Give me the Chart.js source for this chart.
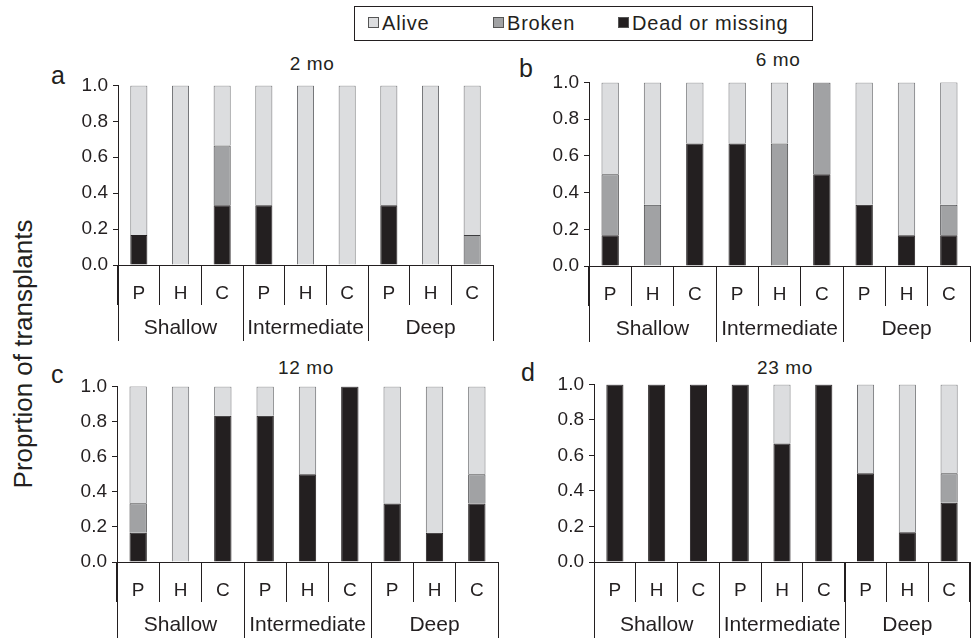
<!DOCTYPE html>
<html lang="en">
<head>
<meta charset="utf-8">
<title>Transplant fate</title>
<script src="https://cdn.jsdelivr.net/npm/chart.js"></script>
<style>
  html, body { margin: 0; padding: 0; background: #fff; }
  body { width: 971px; height: 642px; position: relative; overflow: hidden;
         font-family: "Liberation Sans", Arial, sans-serif; color: #231f20; }
  .abs { position: absolute; }
  .legend { left: 354px; top: 6px; width: 457px; height: 33px; border: 1px solid #231f20; font-size: 20px; letter-spacing: 0.8px; }
  .legend span.item { position: absolute; top: 5px; }
  .legend i { display: inline-block; width: 9px; height: 9px; border: 1px solid #555; margin-right: 3px; vertical-align: 2px; }
  .letter { font-size: 25px; line-height: 1; }
  .ptitle { font-size: 19px; letter-spacing: 0.6px; transform: translate(-50%, -50%); white-space: nowrap; }
  .ytitle { font-size: 26px; white-space: nowrap; transform: translate(-50%, -50%) rotate(-90deg); }
</style>
</head>
<body>
  <div class="abs legend">
    <span class="item" style="left:13px"><i style="background:#dcdddf"></i>Alive</span>
    <span class="item" style="left:138px"><i style="background:#a1a2a4"></i>Broken</span>
    <span class="item" style="left:263px"><i style="background:#231f20"></i>Dead or missing</span>
  </div>

  <div class="abs ytitle" style="left:23px; top:354px;">Proprtion of transplants</div>

  <div class="abs letter" style="left:51px; top:63px;">a</div>
  <div class="abs letter" style="left:519px; top:56px;">b</div>
  <div class="abs letter" style="left:51px; top:362px;">c</div>
  <div class="abs letter" style="left:521px; top:360px;">d</div>

  <div class="abs ptitle" style="left:312px; top:64px;">2 mo</div>
  <div class="abs ptitle" style="left:778px; top:60px;">6 mo</div>
  <div class="abs ptitle" style="left:306px; top:368px;">12 mo</div>
  <div class="abs ptitle" style="left:785px; top:368px;">23 mo</div>

  <canvas id="ca" class="abs" width="434" height="274" style="left:60px; top:69px;"></canvas>
  <canvas id="cb" class="abs" width="440" height="278" style="left:531px; top:66px;"></canvas>
  <canvas id="cc" class="abs" width="440" height="270" style="left:59px; top:370px;"></canvas>
  <canvas id="cd" class="abs" width="435" height="272" style="left:536px; top:368px;"></canvas>

<script>
// categories: species P, H, C within each depth
var categories = ["P", "H", "C", "P", "H", "C", "P", "H", "C"];
var groups = ["Shallow", "Intermediate", "Deep"];
var yTicks = [0, 0.2, 0.4, 0.6, 0.8, 1.0];

// 2 mo
var dead2   = [0.167, 0, 0.333, 0.333, 0, 0, 0.333, 0, 0];
var broken2 = [0, 0, 0.333, 0, 0, 0, 0, 0, 0.167];
var alive2  = [0.833, 1, 0.333, 0.667, 1, 1, 0.667, 1, 0.833];

// 6 mo
var dead6   = [0.167, 0, 0.667, 0.667, 0, 0.5, 0.333, 0.167, 0.167];
var broken6 = [0.333, 0.333, 0, 0, 0.667, 0.5, 0, 0, 0.167];
var alive6  = [0.5, 0.667, 0.333, 0.333, 0.333, 0, 0.667, 0.833, 0.667];

// 12 mo
var dead12   = [0.167, 0, 0.833, 0.833, 0.5, 1, 0.333, 0.167, 0.333];
var broken12 = [0.167, 0, 0, 0, 0, 0, 0, 0, 0.167];
var alive12  = [0.667, 1, 0.167, 0.167, 0.5, 0, 0.667, 0.833, 0.5];

// 23 mo
var dead23   = [1, 1, 1, 1, 0.667, 1, 0.5, 0.167, 0.333];
var broken23 = [0, 0, 0, 0, 0, 0, 0, 0, 0.167];
var alive23  = [0, 0, 0, 0, 0.333, 0, 0.5, 0.833, 0.5];

var INK = "#231f20";
var FONT = "'Liberation Sans', Arial, sans-serif";

// draws the depth row under the P/H/C row
var groupRows = {
    id: "groupRows",
    afterDraw: function(chart) {
        var x = chart.scales.x;
        var ctx = chart.ctx;
        var w = (x.right - x.left) / categories.length;
        var per = categories.length / groups.length;
        ctx.save();
        ctx.strokeStyle = INK;
        ctx.lineWidth = 1;
        for (var g = 0; g <= groups.length; g++) {
            var px = Math.round(x.left + g * per * w) + 0.5;
            ctx.beginPath();
            ctx.moveTo(px, x.top);
            ctx.lineTo(px, x.bottom);
            ctx.stroke();
        }
        ctx.fillStyle = INK;
        ctx.font = "21px " + FONT;
        ctx.textAlign = "center";
        ctx.textBaseline = "middle";
        for (var g = 0; g < groups.length; g++) {
            ctx.fillText(groups[g], x.left + (g * per + per / 2) * w, x.top + 63);
        }
        ctx.restore();
    }
};

function makeChart(id, dead, broken, alive) {
    return new Chart(document.getElementById(id), {
        type: "bar",
        data: {
            labels: categories,
            datasets: [
                { label: "Dead or missing", data: dead, backgroundColor: "#231f20", borderColor: "#231f20", borderWidth: 1 },
                { label: "Broken", data: broken, backgroundColor: "#a1a2a4", borderColor: "#3d3d3f", borderWidth: 1 },
                { label: "Alive", data: alive, backgroundColor: "#dcdddf", borderColor: "#6d6e71", borderWidth: 1 }
            ]
        },
        options: {
            responsive: false,
            animation: false,
            layout: { padding: { top: 8, right: 1, bottom: 2, left: 0 } },
            plugins: { legend: { display: false }, tooltip: { enabled: false } },
            datasets: { bar: { barPercentage: 0.41, categoryPercentage: 1 } },
            scales: {
                x: {
                    stacked: true,
                    grid: { offset: true, drawOnChartArea: false, tickLength: 40, color: INK },
                    border: { color: INK },
                    ticks: { color: INK, padding: -23, font: { family: FONT, size: 19 }, maxRotation: 0, autoSkip: false },
                    afterFit: function(s) { s.height = 76; }
                },
                y: {
                    stacked: true,
                    min: 0, max: 1,
                    afterBuildTicks: function(s) { s.ticks = yTicks.map(function(v) { return { value: v }; }); },
                    grid: { drawOnChartArea: false, tickLength: 5, color: INK },
                    border: { color: INK },
                    ticks: { color: INK, padding: 5, font: { family: FONT, size: 19 },
                             callback: function(v) { return v.toFixed(1); } },
                    afterFit: function(s) { s.width = 58; }
                }
            }
        },
        plugins: [groupRows]
    });
}

makeChart("ca", dead2, broken2, alive2);
makeChart("cb", dead6, broken6, alive6);
makeChart("cc", dead12, broken12, alive12);
makeChart("cd", dead23, broken23, alive23);
</script>
</body>
</html>
